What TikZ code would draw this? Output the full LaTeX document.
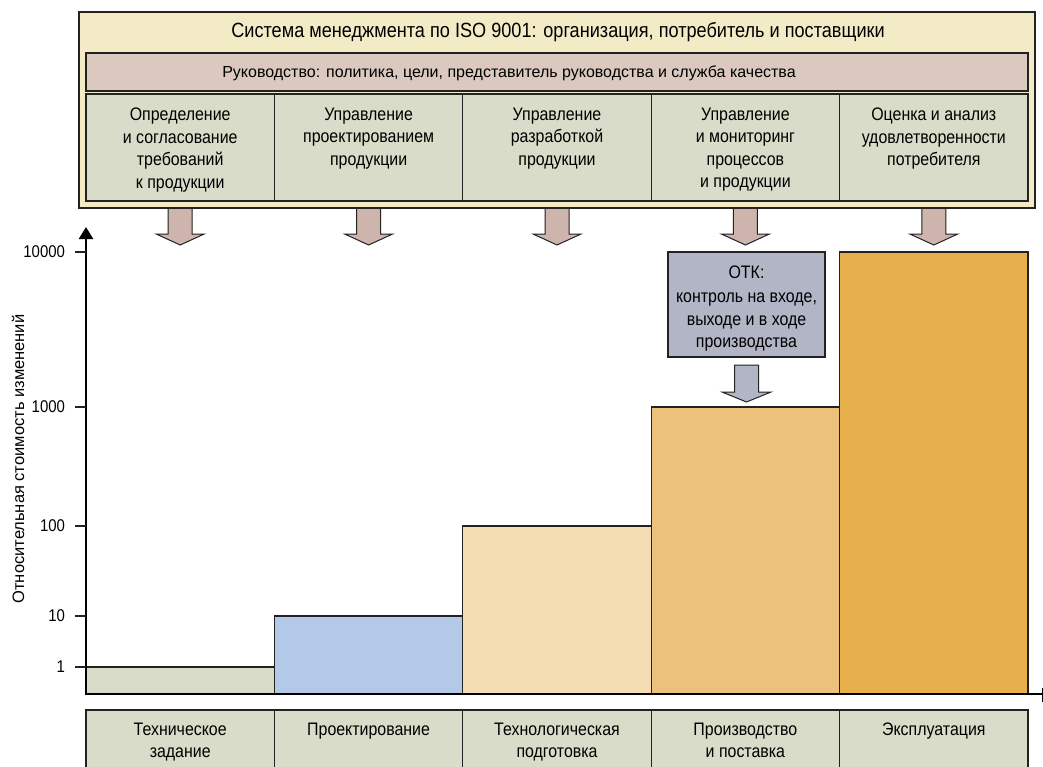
\documentclass[tikz,border=0pt]{standalone}
\usepackage{fontspec}
\setmainfont{Liberation Sans}[FakeStretch=0.88]
\newfontfamily\widesans{Liberation Sans}
\usetikzlibrary{arrows.meta}
\definecolor{sysfill}{HTML}{F3EAC6}
\definecolor{mgmtfill}{HTML}{DBC9BF}
\definecolor{cellfill}{HTML}{D8DCC8}
\definecolor{parrowfill}{HTML}{CDB4AD}
\definecolor{otkfill}{HTML}{B1B5C6}
\definecolor{barA}{HTML}{D8DCC8}
\definecolor{barB}{HTML}{B4C9E7}
\definecolor{barC}{HTML}{F4DDB3}
\definecolor{barD}{HTML}{ECC17B}
\definecolor{barE}{HTML}{E8AF4D}
\definecolor{edge}{HTML}{222222}
\begin{document}
\begin{tikzpicture}[x=1pt,y=-1pt,
  box/.style={draw=edge, line width=1.1pt, inner sep=0pt, outer sep=0pt, anchor=north west},
  lbl/.style={inner sep=0pt, outer sep=0pt, align=center, anchor=north},
  celltext/.style={lbl, font=\fontsize{18.1}{22.5}\selectfont},
  blockarrow/.style={draw=edge, line width=1pt, line join=miter},
  tickmark/.style={line width=1.2pt, draw=edge},
  num/.style={inner sep=0pt, outer sep=0pt, anchor=east, font=\fontsize{17}{20}\selectfont},
  axisline/.style={line width=2.5pt, draw=black}
]
\useasboundingbox (0,0) rectangle (1043,766);
\clip (0,0) rectangle (1043,766);

% block arrows from the management system to the stages
\foreach \i in {1,...,5}{
  \pgfmathsetmacro\xc{86+(\i-0.5)*188.4}
  \draw[blockarrow, fill=parrowfill] (\xc-12,208) -- (\xc-12,234) -- (\xc-24,234) -- (\xc,245) -- (\xc+24,234) -- (\xc+12,234) -- (\xc+12,208) -- cycle;
}

% management system frame
\node[box, line width=1.3pt, fill=sysfill, minimum width=956pt, minimum height=196pt] (sys) at (79,12) {};
\node[inner sep=0pt, anchor=base, font=\fontsize{20.6}{24}\selectfont] (systitle) at (558,37) {Система менеджмента по ISO 9001: организация, потребитель и поставщики};
\node[box, fill=mgmtfill, minimum width=942pt, minimum height=38pt] (mgmt) at (86,53) {};
\node[inner sep=0pt, anchor=base, font=\widesans\fontsize{16}{18}\selectfont] (mgmttext) at (509,77.3) {Руководство: политика, цели, представитель руководства и служба качества};

% process cells
\foreach \i/\t in {1/{Определение\\и согласование\\требований\\к продукции},
                   2/{Управление\\проектированием\\продукции},
                   3/{Управление\\разработкой\\продукции},
                   4/{Управление\\и мониторинг\\процессов\\и продукции},
                   5/{Оценка и анализ\\удовлетворенности\\потребителя}}{
  \pgfmathsetmacro\xl{86+(\i-1)*188.4}
  \node[box, fill=cellfill, minimum width=188.4pt, minimum height=107pt] (top\i) at (\xl,94) {};
  \node[celltext] (toptext\i) at ([yshift=-14pt]top\i.north) {\t};
}

% bars
\foreach \i/\c/\t in {1/barA/667, 2/barB/616, 3/barC/526, 4/barD/407, 5/barE/252}{
  \pgfmathsetmacro\xl{86+(\i-1)*188.4}
  \pgfmathsetmacro\hh{694-\t}
  \node[box, fill=\c, minimum width=188.4pt, minimum height=\hh pt] (bar\i) at (\xl,\t) {};
}

% OTK box and arrow
\node[box, fill=otkfill, minimum width=157pt, minimum height=105pt] (otk) at (668,252) {};
\node[celltext] (otktext) at ([yshift=-14pt]otk.north) {ОТК:\\[1.5pt]контроль на входе,\\выходе и в ходе\\производства};
\draw[blockarrow, fill=otkfill] (734.5,365) -- (734.5,392) -- (722,392) -- (746.5,402) -- (771,392) -- (758.5,392) -- (758.5,365) -- cycle;

% stage cells
\foreach \i/\t in {1/{Техническое\\задание}, 2/{Проектирование}, 3/{Технологическая\\подготовка}, 4/{Производство\\и поставка}, 5/{Эксплуатация}}{
  \pgfmathsetmacro\xl{86+(\i-1)*188.4}
  \node[box, fill=cellfill, minimum width=188.4pt, minimum height=60pt] (stage\i) at (\xl,710) {};
  \node[celltext] (stagetext\i) at ([yshift=-13pt]stage\i.north) {\t};
}

% axes
\coordinate (origin) at (86,694);
\coordinate (ytop) at (86,227);
\coordinate (xend) at (1043,694);
\draw[axisline, -{Triangle[length=12pt,width=14pt]}] ([yshift=-1.25pt]origin) -- (ytop);
\draw[axisline] ([xshift=-1.25pt]origin) -- (xend);
\coordinate (xtickA) at (1042,688);
\coordinate (xtickB) at (1042,702);
\draw[line width=1pt] (xtickA) -- (xtickB);

% y ticks and labels
\foreach \v/\y in {1/667, 10/616, 100/526, 1000/407, 10000/252}{
  \coordinate (tk\v) at (75,\y);
  \draw[tickmark] (tk\v) -- (86,\y);
  \node[num] (lab\v) at (65,\y) {\v};
}

\node[rotate=90, inner sep=0pt, font=\widesans\fontsize{16.5}{18}\selectfont] (ylabel) at (18,459) {Относительная стоимость изменений};
\end{tikzpicture}
\end{document}
